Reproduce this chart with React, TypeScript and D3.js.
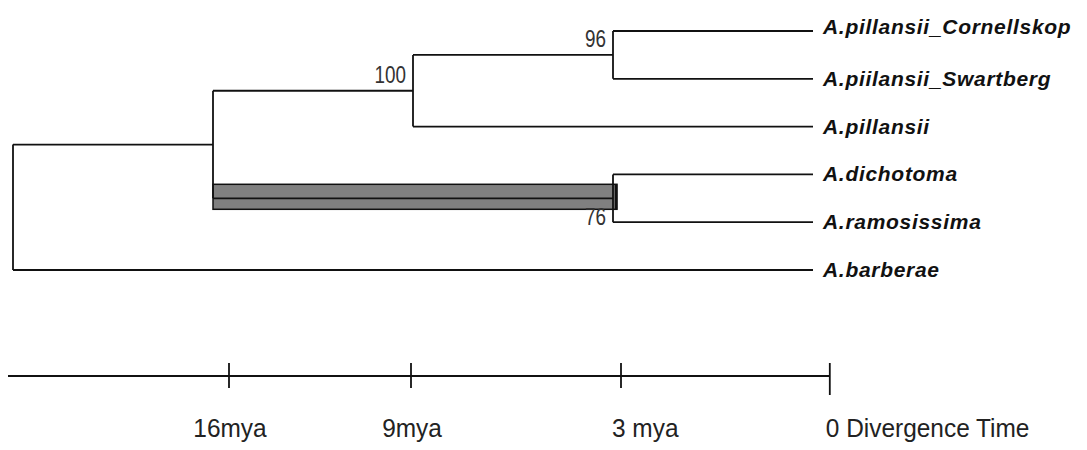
import React from "react";
import * as d3 from "d3";

// tree topology (parent links, children kept in draw order)
const nodeNames = ["root", "ingroup", "n100", "n96", "n76",
  "A.pillansii_Cornellskop", "A.piilansii_Swartberg", "A.pillansii",
  "A.dichotoma", "A.ramosissima", "A.barberae"];
const nodeParents = ["", "root", "ingroup", "n100", "ingroup",
  "n96", "n96", "n100", "n76", "n76", "root"];

const supportNodes = ["n100", "n96", "n76"];
const supportValues = [100, 96, 76];
const supportSide = ["above", "above", "below"];

// highlighted branch (drawn as grey bar)
const barNodes = ["n76"];

// time axis, positions in tree depth units (0 = root, 1 = tips)
const axisTickDepth = [0.27, 0.4975, 0.76, 1.021];
const axisTickLabels = ["16mya", "9mya", "3 mya", "0 Divergence Time"];

const W = 1087, H = 450;

export default function App() {
  const table = nodeNames.map((n, i) => ({ id: n, parent: nodeParents[i] || null }));
  const root = d3.stratify<any>().id(d => d.id).parentId(d => d.parent)(table);
  d3.cluster<any>().size([1, 1]).separation(() => 1)(root);

  const leaves = root.leaves() as any[];
  const x = d3.scaleLinear().domain([0, 1]).range([13, 813]);
  const y = d3.scaleLinear().domain(d3.extent(leaves, d => d.x) as [number, number]).range([31, 270]);
  const axisY = 376;

  const nodes = root.descendants() as any[];
  const stroke = "#111";
  const sw = 1.8;

  return (
    <svg width={W} height={H} style={{ position: "absolute", left: 0, top: 0, background: "#fff" }}>
      {/* grey bar on highlighted branch */}
      {nodes.filter(n => barNodes.includes(n.id)).map(n => (
        <g key={"bar" + n.id}>
          <rect x={x(n.parent.y)} y={y(n.x) - 14} width={x(n.y) - x(n.parent.y) + 4} height={25}
            fill="#808080" stroke={stroke} strokeWidth={1.5} />
          <line x1={x(n.y) + 3} x2={x(n.y) + 3} y1={y(n.x) - 14} y2={y(n.x) + 11} stroke={stroke} strokeWidth={2.5} />
        </g>
      ))}
      {/* horizontal branches */}
      {nodes.filter(n => n.parent).map(n => (
        <line key={"h" + n.id} x1={x(n.parent.y)} x2={x(n.y)} y1={y(n.x)} y2={y(n.x)}
          stroke={stroke} strokeWidth={sw} />
      ))}
      {/* vertical connectors */}
      {nodes.filter(n => n.children).map(n => (
        <line key={"v" + n.id} x1={x(n.y)} x2={x(n.y)}
          y1={y(n.children[0].x)} y2={y(n.children[n.children.length - 1].x)}
          stroke={stroke} strokeWidth={sw} />
      ))}
      {/* tip labels */}
      {leaves.map((n: any, i: number) => (
        <text key={"t" + n.id} x={x(n.y) + 10} y={y(n.x) + (i === 0 ? 3 : 7)}
          fontFamily="'Liberation Sans', Arial, sans-serif" fontSize={21} letterSpacing={0.7}
          fontWeight="bold" fontStyle="italic" fill="#111">{n.id}</text>
      ))}
      {/* support values */}
      {supportNodes.map((id, i) => {
        const n = nodes.find(d => d.id === id);
        const last = n.children[n.children.length - 1];
        const ty = supportSide[i] === "above" ? y(n.x) - 8 : y(last.x) + 3;
        return (
          <g key={"s" + id} transform={`translate(${x(n.y) - 7},${ty}) scale(0.82,1)`}>
            <text textAnchor="end"
              fontFamily="'Liberation Sans', Arial, sans-serif" fontSize={23}
              fill="#333">{supportValues[i]}</text>
          </g>
        );
      })}
      {/* time axis */}
      <line x1={x(-0.00625)} x2={x(axisTickDepth[axisTickDepth.length - 1])} y1={axisY} y2={axisY}
        stroke={stroke} strokeWidth={2} />
      {axisTickDepth.map((d, i) => {
        const last = i === axisTickDepth.length - 1;
        const anchor = i < 2 ? "middle" : "start";
        const dx = i < 2 ? 1 : (last ? -4 : -9);
        return (
          <g key={"a" + i}>
            <line x1={x(d)} x2={x(d)} y1={axisY - 13} y2={axisY + (last ? 19 : 12)}
              stroke={stroke} strokeWidth={1.8} />
            <g transform={`translate(${x(d) + dx},437) scale(0.94,1)`}>
              <text textAnchor={anchor}
                fontFamily="'Liberation Sans', Arial, sans-serif" fontSize={26} fill="#222">
                {axisTickLabels[i]}
              </text>
            </g>
          </g>
        );
      })}
    </svg>
  );
}
